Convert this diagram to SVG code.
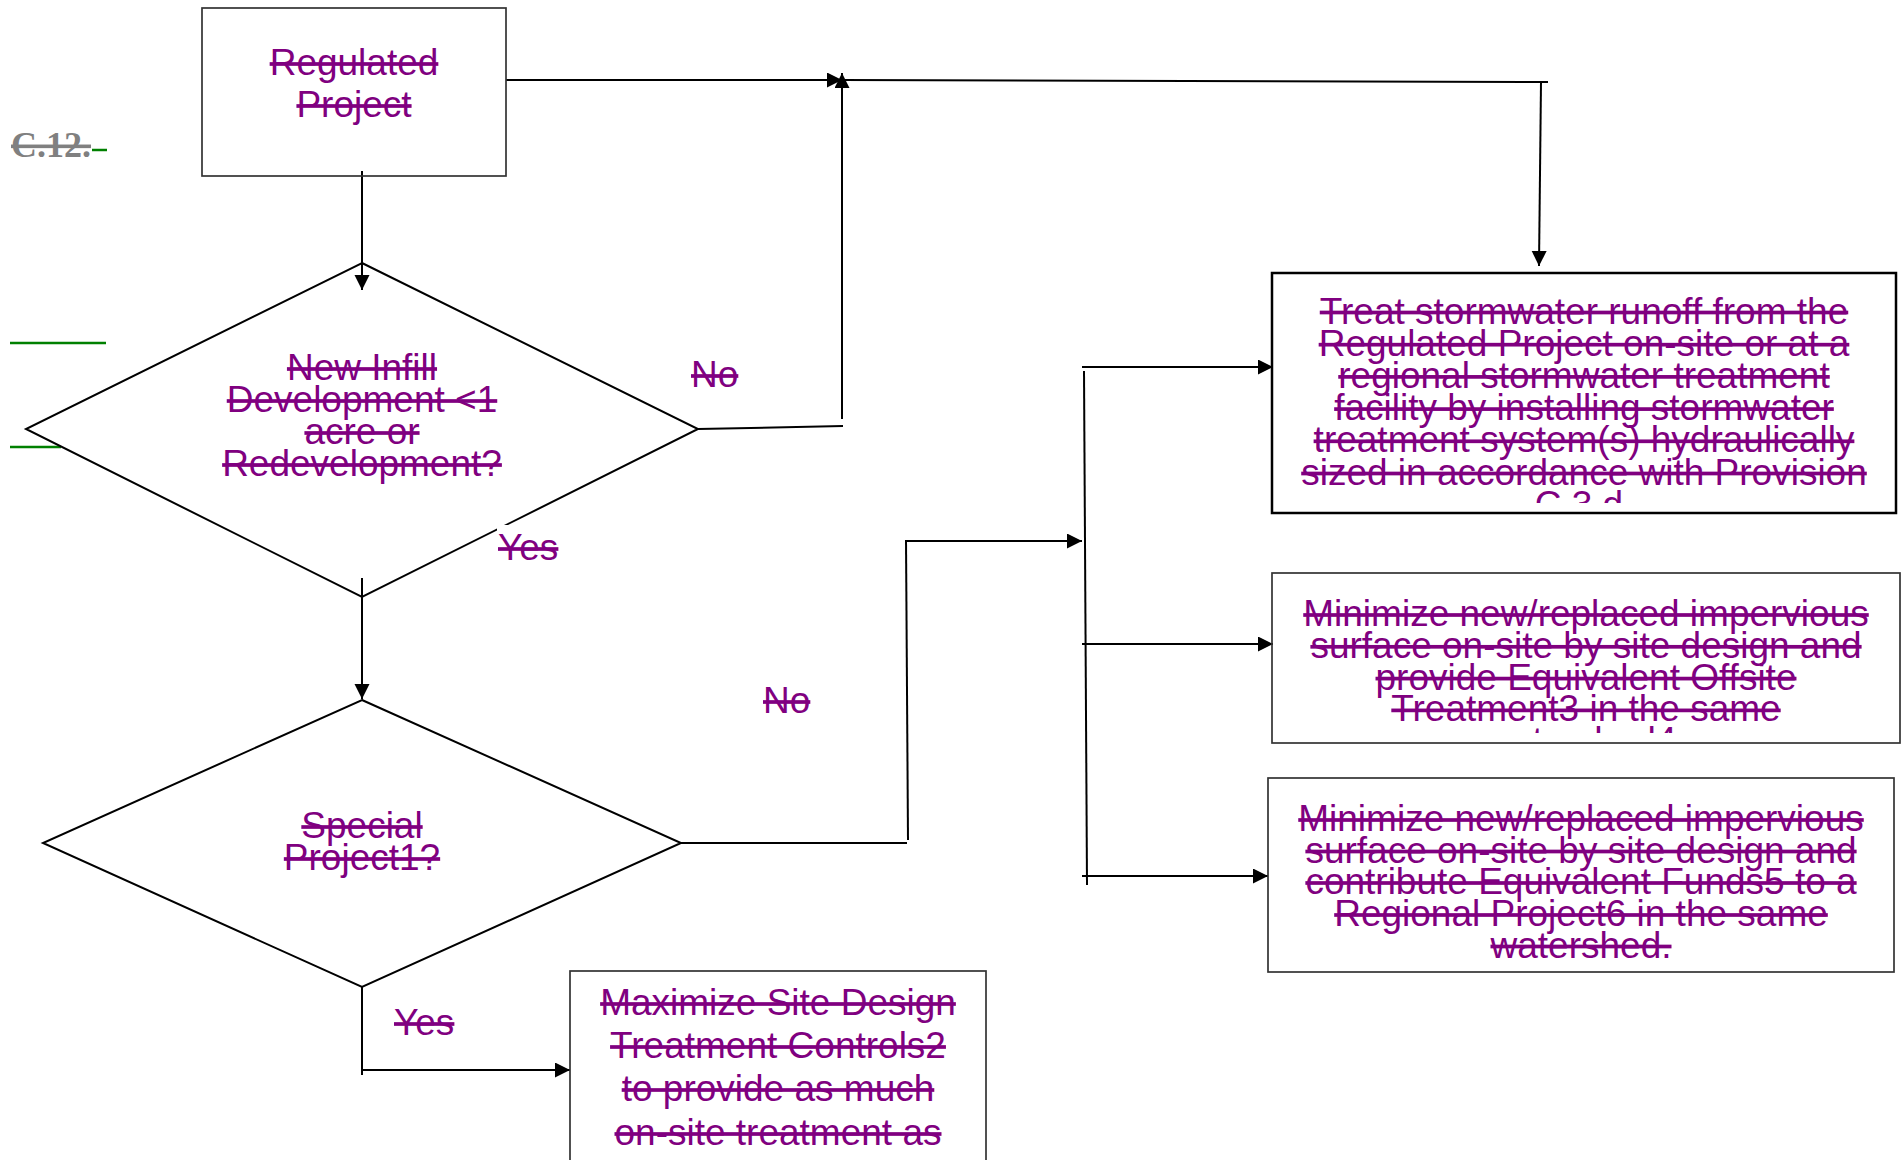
<svg xmlns="http://www.w3.org/2000/svg" width="1902" height="1160" viewBox="0 0 1902 1160">
<defs>
<style>
.t{font-family:"Liberation Sans",Arial,sans-serif;font-size:37px;fill:#800080;text-decoration:line-through;text-anchor:middle}
.l{font-family:"Liberation Sans",Arial,sans-serif;font-size:37px;fill:#800080;text-decoration:line-through}
.box{fill:none;stroke:#333;stroke-width:1.7}
.dia{fill:none;stroke:#000;stroke-width:2}
.c{fill:none;stroke:#000;stroke-width:2}
.g{stroke:#008000;stroke-width:2.5}
</style>
<marker id="ah" markerUnits="userSpaceOnUse" markerWidth="16" markerHeight="16" refX="15" refY="7.5" orient="auto">
<path d="M0,0 L15,7.5 L0,15 z" fill="#000"/>
</marker>
<clipPath id="clip3"><rect x="1272" y="273" width="624" height="230"/></clipPath>
<clipPath id="clip4"><rect x="1272" y="573" width="628" height="160"/></clipPath>
</defs>
<rect width="1902" height="1160" fill="#fff"/>

<g id="margin">
<text x="11" y="157" style="font-family:'Liberation Serif','Times New Roman',serif;font-size:36px;font-weight:bold;fill:#808080;text-decoration:line-through">C.12.</text>
<line class="g" x1="92" y1="150" x2="107" y2="150"/>
<line class="g" x1="10" y1="343" x2="106" y2="343"/>
<line class="g" x1="10" y1="447" x2="61" y2="447"/>
</g>

<g id="connectors">
<line class="c" x1="362" y1="171" x2="362" y2="290" marker-end="url(#ah)"/>
<line class="c" x1="506" y1="80" x2="842" y2="80" marker-end="url(#ah)"/>
<line class="c" x1="698" y1="429" x2="843" y2="426"/>
<line class="c" x1="842" y1="419" x2="842" y2="73" marker-end="url(#ah)"/>
<line class="c" x1="842" y1="80" x2="1548" y2="82"/>
<line class="c" x1="1541" y1="82" x2="1539" y2="266" marker-end="url(#ah)"/>
<line class="c" x1="362" y1="578" x2="362" y2="699" marker-end="url(#ah)"/>
<line class="c" x1="681" y1="843" x2="907" y2="843"/>
<line class="c" x1="908" y1="840" x2="906" y2="540"/>
<line class="c" x1="905" y1="541" x2="1082" y2="541" marker-end="url(#ah)"/>
<line class="c" x1="1084" y1="371" x2="1087" y2="885"/>
<line class="c" x1="1082" y1="367" x2="1273" y2="367" marker-end="url(#ah)"/>
<line class="c" x1="1082" y1="644" x2="1273" y2="644" marker-end="url(#ah)"/>
<line class="c" x1="1082" y1="876" x2="1268" y2="876" marker-end="url(#ah)"/>
<line class="c" x1="362" y1="987" x2="362" y2="1075"/>
<line class="c" x1="362" y1="1070" x2="570" y2="1070" marker-end="url(#ah)"/>
</g>

<g id="regulated-project">
<rect class="box" x="202" y="8" width="304" height="168"/>
<text class="t" x="354" y="75">Regulated</text>
<text class="t" x="354" y="117">Project</text>
</g>

<g id="decision-infill">
<polygon class="dia" points="362,263 698,429 362,597 26,429"/>
<text class="t" x="362" y="380">New Infill</text>
<text class="t" x="362" y="412">Development &lt;1</text>
<text class="t" x="362" y="444">acre or</text>
<text class="t" x="362" y="476">Redevelopment?</text>
</g>

<g id="label-no-1"><text class="l" x="691" y="387">No</text></g>
<g id="label-yes-1">
<rect x="497" y="525" width="70" height="45" fill="#fff"/>
<text class="l" x="498" y="560">Yes</text>
</g>

<g id="decision-special">
<polygon class="dia" points="362,700 681,843 362,987 43,843"/>
<text class="t" x="362" y="838">Special</text>
<text class="t" x="362" y="870">Project1?</text>
</g>

<g id="label-no-2"><text class="l" x="763" y="713">No</text></g>
<g id="label-yes-2"><text class="l" x="394" y="1035">Yes</text></g>

<g id="treat-onsite">
<rect x="1272" y="273" width="624" height="240" fill="none" stroke="#000" stroke-width="2.5"/>
<g clip-path="url(#clip3)">
<text class="t" x="1584" y="323.5">Treat stormwater runoff from the</text>
<text class="t" x="1584" y="355.7">Regulated Project on-site or at a</text>
<text class="t" x="1584" y="387.9">regional stormwater treatment</text>
<text class="t" x="1584" y="420.1">facility by installing stormwater</text>
<text class="t" x="1584" y="452.3">treatment system(s) hydraulically</text>
<text class="t" x="1584" y="484.5">sized in accordance with Provision</text>
<text class="t" x="1584" y="516.7">C.3.d.</text>
</g>
</g>

<g id="offsite-treatment">
<rect class="box" x="1272" y="573" width="628" height="170"/>
<g clip-path="url(#clip4)">
<text class="t" x="1586" y="626">Minimize new/replaced impervious</text>
<text class="t" x="1586" y="657.8">surface on-site by site design and</text>
<text class="t" x="1586" y="689.6">provide Equivalent Offsite</text>
<text class="t" x="1586" y="721.4">Treatment3 in the same</text>
<text class="t" x="1586" y="753.2">watershed4.</text>
</g>
</g>

<g id="equivalent-funds">
<rect class="box" x="1268" y="778" width="626" height="194"/>
<text class="t" x="1581" y="831">Minimize new/replaced impervious</text>
<text class="t" x="1581" y="862.5">surface on-site by site design and</text>
<text class="t" x="1581" y="894">contribute Equivalent Funds5 to a</text>
<text class="t" x="1581" y="926">Regional Project6 in the same</text>
<text class="t" x="1581" y="957.5">watershed.</text>
</g>

<g id="maximize-site-design">
<rect class="box" x="570" y="971" width="416" height="300"/>
<text class="t" x="778" y="1015">Maximize Site Design</text>
<text class="t" x="778" y="1058">Treatment Controls2</text>
<text class="t" x="778" y="1101">to provide as much</text>
<text class="t" x="778" y="1145">on-site treatment as</text>
</g>
</svg>
